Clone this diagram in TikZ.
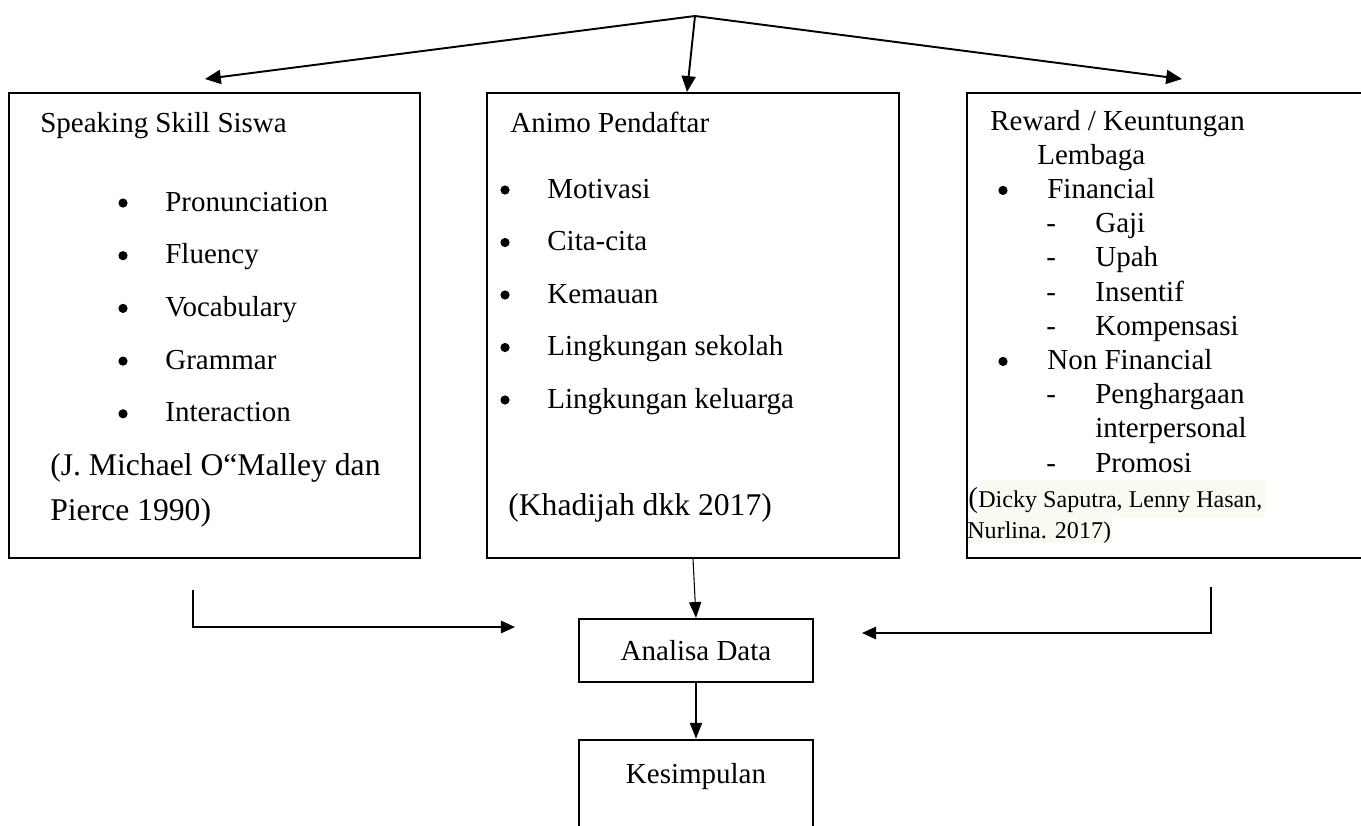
\documentclass[tikz,border=0pt]{standalone}
\usepackage{fontspec}
\setmainfont{Liberation Serif}
\usetikzlibrary{arrows.meta, positioning, calc}
\definecolor{citebg}{RGB}{251, 250, 242}

\begin{document}
\begin{tikzpicture}[x=0.02cm, y=-0.02cm,
  bbox/.style={draw, line width=1.3pt, inner sep=0pt},
  txt/.style={anchor=base west, inner sep=0pt, font=\fontsize{16.5}{20}\selectfont},
  cite/.style={anchor=base west, inner sep=0pt, font=\fontsize{18}{22}\selectfont},
  smallcite/.style={anchor=base west, inner sep=0pt, font=\fontsize{13.7}{16}\selectfont},
  bigarrow/.style={-{Triangle[length=9pt, width=8pt]}, line width=1.1pt},
  thinarrow/.style={-{Triangle[length=9pt, width=7pt]}, line width=0.6pt},
  bracket/.style={-{Triangle[length=8pt, width=7pt]}, line width=1.2pt}
]
  \useasboundingbox (0,0) rectangle (1361,825);

  \fill[citebg] (980,480) rectangle (1265,517);
  \fill[citebg] (967,517) rectangle (1112,543);

  \node[bbox, minimum width=8.22cm, minimum height=9.3cm] (spk) at (214.5,325.5) {};
  \node[bbox, minimum width=8.24cm, minimum height=9.3cm] (ani) at (693,325.5) {};
  \node[bbox, minimum width=8.4cm, minimum height=9.3cm] (rew) at (1177,325.5) {};
  \node[bbox, minimum width=4.68cm, minimum height=1.26cm] (ana) at (696,650.5) {};
  \node[bbox, line width=1.6pt, minimum width=4.68cm, minimum height=2cm] (kes) at (696,790) {};

  \node[txt] (spkt) at (40,132) {Speaking Skill Siswa};
  \foreach \t [count=\i from 0] in {Pronunciation, Fluency, Vocabulary, Grammar, Interaction} {
    \fill (123,{203+52.7*\i}) circle (4.6);
    \node[txt] at (165,{211+52.7*\i}) {\t};
  }
  \node[cite] (spkc) at (50,475) {(J. Michael O“Malley dan};
  \node[cite] at (50,520) {Pierce 1990)};

  \node[txt] (anit) at (510,132) {Animo Pendaftar};
  \foreach \t [count=\i from 0] in {Motivasi, Cita-cita, Kemauan, Lingkungan sekolah, Lingkungan keluarga} {
    \fill (505,{190+52.5*\i}) circle (4.6);
    \node[txt] at (547,{198+52.5*\i}) {\t};
  }
  \node[cite] (anic) at (508,515) {(Khadijah dkk 2017)};

  \node[txt] (rewt) at (990,130) {Reward / Keuntungan};
  \node[txt] at (1037,164) {Lembaga};
  \foreach \k/\t in {2/Financial, 7/Non Financial} {
    \fill (1003,{122+34.2*\k}) circle (4.6);
    \node[txt] at (1047,{130+34.2*\k}) {\t};
  }
  \foreach \k/\t in {3/Gaji, 4/Upah, 5/Insentif, 6/Kompensasi, 8/Penghargaan, 10/Promosi} {
    \node[txt] at (1046,{130+34.2*\k}) {-};
    \node[txt] at (1095,{130+34.2*\k}) {\t};
  }
  \node[txt] at (1095,{130+34.2*9}) {interpersonal};
  \node[txt] at (968,507) {(};
  \node[smallcite] (rewc) at (978,507) {Dicky Saputra, Lenny Hasan,};
  \node[smallcite] at (967,538) {Nurlina. 2017)};

  \node[txt, anchor=base] at (696,660) {Analisa Data};
  \node[txt, anchor=base] at (696,783) {Kesimpulan};

  \coordinate (top) at (695,16);
  \coordinate (spkin) at (205,79);
  \coordinate (rewin) at (1182,79);
  \draw[bigarrow] (top) -- (spkin);
  \draw[bigarrow] (top) -- ([xshift=-0.12cm]ani.north);
  \draw[bigarrow] (top) -- (rewin);

  \draw[thinarrow] (ani.south) -- (ana.north);
  \draw[thinarrow] (ana.south) -- (kes.north);

  \coordinate (lb) at (193,590);
  \coordinate (lbend) at (515,627);
  \draw[bracket] (lb) |- (lbend);
  \coordinate (rb) at (1211,587);
  \coordinate (rbend) at (862,633);
  \draw[bracket] (rb) |- (rbend);
\end{tikzpicture}
\end{document}
